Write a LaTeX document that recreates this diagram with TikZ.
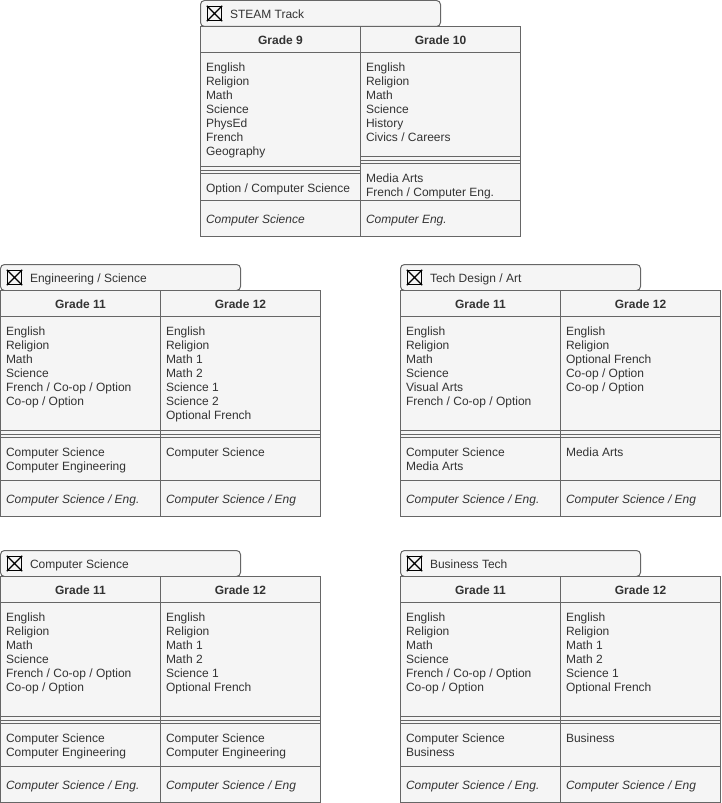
\documentclass[tikz,border=0pt]{standalone}
\usepackage{fontspec}
\setmainfont{Liberation Sans}
\definecolor{boxfill}{HTML}{F5F5F5}
\definecolor{boxline}{HTML}{666666}
\definecolor{txt}{HTML}{333333}
\tikzset{
  lbl/.style={inner sep=0pt, outer sep=0pt, text=txt, font=\fontsize{12bp}{14bp}\selectfont, align=left},
  bodytext/.style={lbl, anchor=north west},
  headtext/.style={lbl, font=\fontsize{12bp}{14bp}\selectfont\bfseries, anchor=base},
  titletext/.style={lbl, anchor=base west},
  frameline/.style={draw=boxline, line width=1bp},
  tabshape/.style={frameline, fill=boxfill, rounded corners=4bp},
  iconbox/.style={draw=black, line width=1.3bp, minimum size=14bp, inner sep=0pt},
  iconcross/.style={draw=black, line width=1.3bp},
}
% #1 prefix, #2 title, #3 double line col1, #4 double line col2, #5 middle bottom, #6 table bottom
\newcommand\panelframe[6]{%
  \def\dA{#3}\def\dB{#4}\def\mB{#5}\def\bT{#6}%
  \draw[tabshape] (0,0) rectangle (240,26);
  \node[iconbox] (#1icon) at (14,13) {};
  \draw[iconcross] (#1icon.north west) -- (#1icon.south east) (#1icon.north east) -- (#1icon.south west);
  \node[titletext] (#1title) at (29.5,18) {#2};
  \draw[frameline, fill=boxfill] (0,26) rectangle (320,#6);
  \draw[frameline] (160,26) -- (160,#6);
  \draw[frameline] (0,52) -- (320,52);
  \draw[frameline] (0,#3) -- (160,#3) (0,#3+3.5) -- (160,#3+3.5) (0,#3+7) -- (160,#3+7);
  \draw[frameline] (160,#4) -- (320,#4) (160,#4+3.5) -- (320,#4+3.5) (160,#4+7) -- (320,#4+7);
  \draw[frameline] (0,#5) -- (320,#5);
}
% #1 prefix, #2 #3 headers, #4 #5 bodies, #6 #7 middle, #8 #9 italic
\newcommand\paneltext[9]{%
  \node[headtext] (#1hA) at (80,44) {#2};
  \node[headtext] (#1hB) at (240,44) {#3};
  \node[bodytext] (#1bA) at (5.5,61.3) {\strut#4};
  \node[bodytext] (#1bB) at (165.5,61.3) {\strut#5};
  \node[bodytext] (#1mA) at (5.5,\dA+16.3) {\strut#6};
  \node[bodytext] (#1mB) at (165.5,\dB+16.3) {\strut#7};
  \node[bodytext] (#1iA) at (5.5,{(\mB+\bT)/2-4.8}) {\strut\itshape #8};
  \node[bodytext] (#1iB) at (165.5,{(\mB+\bT)/2-4.8}) {\strut\itshape #9};
}
\begin{document}
\begin{tikzpicture}[x=1bp, y=-1bp]
\useasboundingbox (0,0) rectangle (722,803);

\begin{scope}[shift={(200.5,0.5)}]
  \panelframe{s}{STEAM Track}{166}{156}{200}{236}
  \paneltext{s}{Grade 9}{Grade 10}
    {English\\Religion\\Math\\Science\\PhysEd\\French\\Geography}
    {English\\Religion\\Math\\Science\\History\\Civics / Careers}
    {Option / Computer Science}
    {Media Arts\\French / Computer Eng.}
    {Computer Science}
    {Computer Eng.}
\end{scope}

\begin{scope}[shift={(0.5,264.5)}]
  \panelframe{e}{Engineering / Science}{166}{166}{216}{252}
  \paneltext{e}{Grade 11}{Grade 12}
    {English\\Religion\\Math\\Science\\French / Co-op / Option\\Co-op / Option}
    {English\\Religion\\Math 1\\Math 2\\Science 1\\Science 2\\Optional French}
    {Computer Science\\Computer Engineering}
    {Computer Science}
    {Computer Science / Eng.}
    {Computer Science / Eng}
\end{scope}

\begin{scope}[shift={(400.5,264.5)}]
  \panelframe{t}{Tech Design / Art}{166}{166}{216}{252}
  \paneltext{t}{Grade 11}{Grade 12}
    {English\\Religion\\Math\\Science\\Visual Arts\\French / Co-op / Option}
    {English\\Religion\\Optional French\\Co-op / Option\\Co-op / Option}
    {Computer Science\\Media Arts}
    {Media Arts}
    {Computer Science / Eng.}
    {Computer Science / Eng}
\end{scope}

\begin{scope}[shift={(0.5,550.5)}]
  \panelframe{c}{Computer Science}{166}{166}{216}{252}
  \paneltext{c}{Grade 11}{Grade 12}
    {English\\Religion\\Math\\Science\\French / Co-op / Option\\Co-op / Option}
    {English\\Religion\\Math 1\\Math 2\\Science 1\\Optional French}
    {Computer Science\\Computer Engineering}
    {Computer Science\\Computer Engineering}
    {Computer Science / Eng.}
    {Computer Science / Eng}
\end{scope}

\begin{scope}[shift={(400.5,550.5)}]
  \panelframe{b}{Business Tech}{166}{166}{216}{252}
  \paneltext{b}{Grade 11}{Grade 12}
    {English\\Religion\\Math\\Science\\French / Co-op / Option\\Co-op / Option}
    {English\\Religion\\Math 1\\Math 2\\Science 1\\Optional French}
    {Computer Science\\Business}
    {Business}
    {Computer Science / Eng.}
    {Computer Science / Eng}
\end{scope}
\end{tikzpicture}
\end{document}
